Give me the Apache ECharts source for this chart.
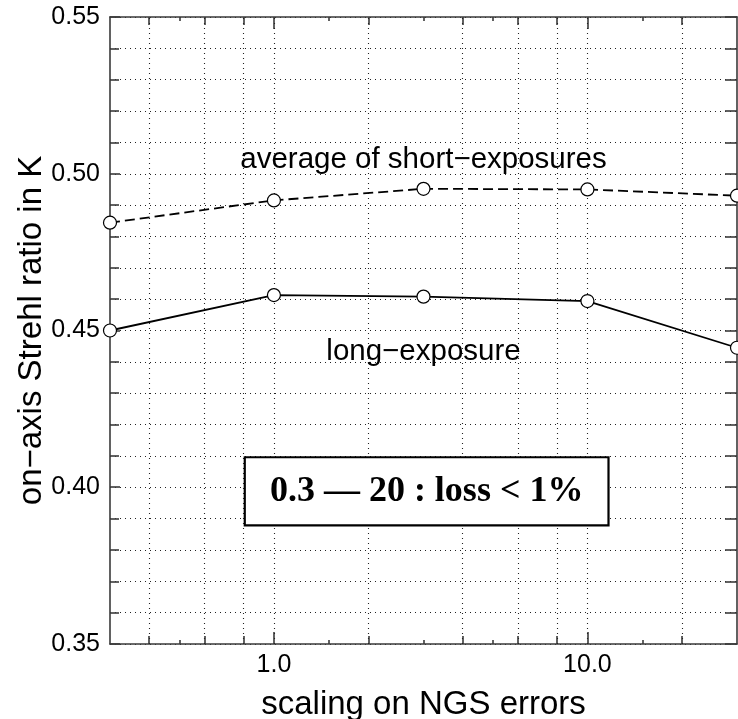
<!DOCTYPE html>
<html>
<head>
<meta charset="utf-8">
<script src="https://cdn.jsdelivr.net/npm/echarts@6/dist/echarts.min.js"></script>
<style>
html,body{margin:0;padding:0;background:#fff;}
#main{width:738px;height:719px;}
</style>
</head>
<body>
<div id="main"></div>
<script>
// ---- data ----
const xValues = [0.3, 1, 3, 10, 30];
const shortExposure = [0.4844, 0.4915, 0.4952, 0.4950, 0.4930];
const longExposure = [0.4500, 0.4613, 0.4608, 0.4594, 0.4445];
const xMajorTicks = [1, 10];
const xMediumTicks = [0.4, 0.6, 0.8, 2, 4, 6, 8, 20];
const xSmallTicks = [0.5, 1.5, 3, 5, 15];
const xGridLines = [0.4, 0.6, 0.8, 1, 2, 4, 6, 8, 10, 20];
const xMin = 0.3, xMax = 30;
const yMin = 0.35, yMax = 0.55, yInterval = 0.05;
const xTitle = 'scaling on NGS errors';
const yTitle = 'on\u2212axis Strehl ratio in K';
const labelShort = 'average of short\u2212exposures';
const labelLong = 'long\u2212exposure';
const boxText = '0.3 \u2014 20 : loss < 1%';

const FONT = 'Liberation Sans, Arial, Helvetica, sans-serif';
const axisLineStyle = { color: '#3a3a3a', width: 1.6 };
const dotted = { color: '#222', width: 1.1, type: [1, 4] };

function logX(extra) {
  return Object.assign({
    type: 'log', logBase: 10, min: xMin, max: xMax, gridIndex: 0,
    axisLine: { show: false },
    axisTick: { show: false },
    axisLabel: { show: false },
    splitLine: { show: false },
    minorTick: { show: false },
    minorSplitLine: { show: false }
  }, extra);
}
function tickAxis(pos, values, len) {
  return logX({
    position: pos,
    axisTick: { show: true, inside: true, length: len, customValues: values, lineStyle: axisLineStyle }
  });
}

const chart = echarts.init(document.getElementById('main'), null, { renderer: 'canvas' });

const option = {
  backgroundColor: '#fff',
  animation: false,
  grid: { left: 110, right: 1, top: 17, bottom: 75, containLabel: false, outerBoundsMode: 'none' },
  xAxis: [
    logX({
      position: 'bottom',
      axisLine: { show: true, lineStyle: axisLineStyle },
      axisTick: { show: true, inside: true, length: 12, customValues: xMajorTicks, lineStyle: axisLineStyle },
      axisLabel: { show: true, customValues: xMajorTicks, formatter: v => Number(v).toFixed(1),
                   fontSize: 25, color: '#000', fontFamily: FONT, margin: 9 },
      name: xTitle, nameLocation: 'middle', nameGap: 44,
      nameTextStyle: { fontSize: 33, color: '#000', fontFamily: FONT }
    }),
    tickAxis('bottom', xMediumTicks, 8),
    tickAxis('bottom', xSmallTicks, 4),
    logX({
      position: 'top',
      axisLine: { show: true, lineStyle: axisLineStyle },
      axisTick: { show: true, inside: true, length: 12, customValues: xMajorTicks, lineStyle: axisLineStyle }
    }),
    tickAxis('top', xMediumTicks, 8),
    tickAxis('top', xSmallTicks, 4)
  ],
  yAxis: [
    {
      type: 'value', min: yMin, max: yMax, interval: yInterval, position: 'left',
      axisLine: { show: true, lineStyle: axisLineStyle },
      axisTick: { show: true, inside: true, length: 10, lineStyle: axisLineStyle },
      minorTick: { show: true, splitNumber: 5, length: 9, lineStyle: axisLineStyle },
      splitLine: { show: true, lineStyle: dotted },
      minorSplitLine: { show: true, lineStyle: dotted },
      axisLabel: { formatter: v => Number(v).toFixed(2), fontSize: 25, color: '#000', fontFamily: FONT, margin: 10 },
      name: yTitle, nameLocation: 'middle', nameGap: 62, nameRotate: 90, nameMoveOverlap: false,
      nameTextStyle: { fontSize: 33, color: '#000', fontFamily: FONT }
    },
    {
      type: 'value', min: yMin, max: yMax, interval: yInterval, position: 'right',
      axisLine: { show: true, lineStyle: axisLineStyle },
      axisTick: { show: true, inside: true, length: 12, lineStyle: axisLineStyle },
      minorTick: { show: true, splitNumber: 5, length: 12, lineStyle: axisLineStyle },
      splitLine: { show: false },
      axisLabel: { show: false }
    }
  ],
  series: [
    {
      name: 'grid',
      type: 'line',
      xAxisIndex: 0, yAxisIndex: 0,
      data: [],
      silent: true,
      z: 1,
      markLine: {
        silent: true,
        symbol: ['none', 'none'],
        label: { show: false },
        lineStyle: dotted,
        emphasis: { disabled: true },
        data: xGridLines.map(x => ({ xAxis: x }))
      }
    },
    {
      name: 'average of short-exposures',
      type: 'line',
      xAxisIndex: 0, yAxisIndex: 0,
      data: xValues.map((x, i) => [x, shortExposure[i]]),
      symbol: 'circle', symbolSize: 13,
      itemStyle: { color: '#fff', borderColor: '#000', borderWidth: 1.2 },
      lineStyle: { color: '#000', width: 1.8, type: [10, 5] },
      z: 5,
      markPoint: {
        symbol: 'rect', symbolSize: 1,
        itemStyle: { color: 'rgba(0,0,0,0)' },
        data: [
          { coord: [3.0, 0.5045], label: { show: true, position: 'inside', formatter: labelShort,
              fontSize: 29.5, color: '#000', fontFamily: FONT } }
        ]
      }
    },
    {
      name: 'long-exposure',
      type: 'line',
      xAxisIndex: 0, yAxisIndex: 0,
      data: xValues.map((x, i) => [x, longExposure[i]]),
      symbol: 'circle', symbolSize: 13,
      itemStyle: { color: '#fff', borderColor: '#000', borderWidth: 1.2 },
      lineStyle: { color: '#000', width: 1.8, type: 'solid' },
      z: 5,
      markPoint: {
        symbol: 'rect', symbolSize: 1,
        itemStyle: { color: 'rgba(0,0,0,0)' },
        data: [
          { coord: [3.0, 0.4432], label: { show: true, position: 'inside', formatter: labelLong,
              fontSize: 29.5, color: '#000', fontFamily: FONT } },
          { coord: [3.07, 0.3987], label: { show: true, position: 'inside', formatter: boxText,
              fontSize: 36, fontWeight: 'bold', lineHeight: 38, color: '#000',
              fontFamily: 'Liberation Serif, Times New Roman, serif',
              backgroundColor: '#fff', borderColor: '#000', borderWidth: 2.2,
              padding: [14, 24, 14, 24] } }
        ]
      }
    }
  ]
};

chart.setOption(option);
</script>
</body>
</html>
